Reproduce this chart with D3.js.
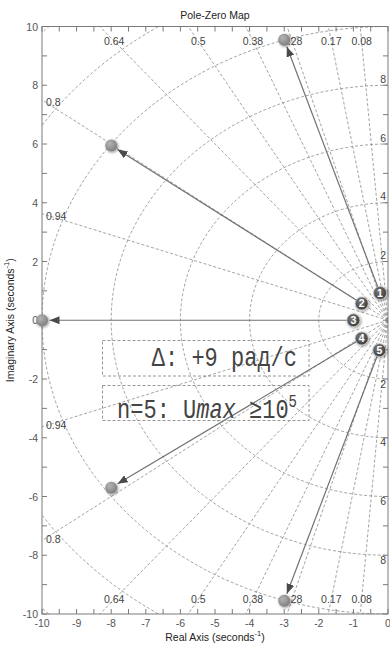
<!DOCTYPE html>
<html>
<head>
<meta charset="utf-8">
<script src="https://cdn.jsdelivr.net/npm/d3@7"></script>
<style>
  html, body { margin: 0; padding: 0; background: #fff; }
  svg { display: block; }
</style>
</head>
<body>
<svg id="chart" width="390" height="646"></svg>
<script>
// ---------- data ----------
const xTickValues = [-10, -9, -8, -7, -6, -5, -4, -3, -2, -1, 0];
const yTickValues = [-10, -8, -6, -4, -2, 0, 2, 4, 6, 8, 10];
const zetaValues = [0.08, 0.17, 0.28, 0.38, 0.5, 0.64, 0.8, 0.94];
const zetaLabels = ["0.08", "0.17", "0.28", "0.38", "0.5", "0.64", "0.8", "0.94"];
const wnValues = [2, 4, 6, 8, 10, 12, 14];
const wnLabelValues = [2, 4, 6, 8];
const poleIds = [1, 2, 3, 4, 5];
const startRe = [-0.23, -0.76, -1.0, -0.76, -0.25];
const startIm = [0.93, 0.57, 0.0, -0.62, -1.02];
const endRe = [-3, -8, -10, -8, -3];
const endIm = [9.55, 5.95, 0.0, -5.7, -9.55];
const titleText = "Pole-Zero Map";
const xLabelText = "Real Axis (seconds";
const yLabelText = "Imaginary Axis (seconds";
const note1 = "\u0394: +9 \u0440\u0430\u0434/\u0441";

// ---------- layout ----------
const svg = d3.select("#chart");
const L = 42, R = 388, T = 26.5, B = 614;
const x = d3.scaleLinear().domain([-10, 0]).range([L, R]);
const y = d3.scaleLinear().domain([-10, 10]).range([B, T]);
const sans = "'Liberation Sans', Arial, sans-serif";

const defs = svg.append("defs");
defs.append("clipPath").attr("id", "plotclip")
  .append("rect").attr("x", L).attr("y", T).attr("width", R - L).attr("height", B - T);

const bg = defs.append("radialGradient").attr("id", "ballGrad")
  .attr("cx", "38%").attr("cy", "35%").attr("r", "65%");
bg.append("stop").attr("offset", "0%").attr("stop-color", "#b4b4b4");
bg.append("stop").attr("offset", "100%").attr("stop-color", "#808080");

const mg = defs.append("radialGradient").attr("id", "markGrad")
  .attr("cx", "38%").attr("cy", "35%").attr("r", "65%");
mg.append("stop").attr("offset", "0%").attr("stop-color", "#7a7a7a");
mg.append("stop").attr("offset", "100%").attr("stop-color", "#3e3e3e");

const soft = defs.append("filter").attr("id", "soft")
  .attr("x", "-50%").attr("y", "-50%").attr("width", "200%").attr("height", "200%");
soft.append("feGaussianBlur").attr("in", "SourceAlpha").attr("stdDeviation", 1.4).attr("result", "b");
soft.append("feOffset").attr("in", "b").attr("dx", 0.5).attr("dy", 1).attr("result", "o");
soft.append("feComponentTransfer").attr("in", "o").attr("result", "s")
  .append("feFuncA").attr("type", "linear").attr("slope", 0.45);
const fm = soft.append("feMerge");
fm.append("feMergeNode").attr("in", "s");
fm.append("feMergeNode").attr("in", "SourceGraphic");

defs.append("marker").attr("id", "arrow")
  .attr("markerUnits", "userSpaceOnUse")
  .attr("markerWidth", 11).attr("markerHeight", 8)
  .attr("refX", 10).attr("refY", 4).attr("orient", "auto")
  .append("path").attr("d", "M0,0 L10,4 L0,8 Z").attr("fill", "#4a4a4a");

// ---------- grid ----------
const grid = svg.append("g").attr("clip-path", "url(#plotclip)")
  .attr("fill", "none").attr("stroke", "#8c8c8c")
  .attr("stroke-width", 0.8).attr("stroke-dasharray", "3,2");

const arc = d3.line().x(d => x(d[0])).y(d => y(d[1]));
wnValues.forEach(wn => {
  const pts = d3.range(90, 270.01, 1).map(a => [wn * Math.cos(a * Math.PI / 180), wn * Math.sin(a * Math.PI / 180)]);
  grid.append("path").attr("d", arc(pts));
});
zetaValues.forEach(z => {
  const th = Math.acos(z);
  const far = 30;
  [1, -1].forEach(s => {
    grid.append("line")
      .attr("x1", x(0)).attr("y1", y(0))
      .attr("x2", x(-far * Math.cos(th))).attr("y2", y(s * far * Math.sin(th)));
  });
});

// ---------- frame & ticks ----------
const frame = svg.append("g").attr("stroke", "#7a7a7a").attr("stroke-width", 1);
frame.append("rect").attr("x", L).attr("y", T).attr("width", R - L).attr("height", B - T).attr("fill", "none");
const xMinor = d3.range(-10, 0.01, 0.5);
const yMinor = d3.range(-10, 10.01, 1);
xMinor.forEach(v => {
  frame.append("line").attr("x1", x(v)).attr("x2", x(v)).attr("y1", B).attr("y2", B - 5);
  frame.append("line").attr("x1", x(v)).attr("x2", x(v)).attr("y1", T).attr("y2", T + 5);
});
yMinor.forEach(v => {
  frame.append("line").attr("x1", L).attr("x2", L + 5).attr("y1", y(v)).attr("y2", y(v));
  frame.append("line").attr("x1", R).attr("x2", R - 5).attr("y1", y(v)).attr("y2", y(v));
});

const tickText = svg.append("g").attr("font-family", sans).attr("font-size", 10.5).attr("fill", "#555");
xTickValues.forEach(v => {
  tickText.append("text").attr("x", x(v)).attr("y", B + 13).attr("text-anchor", "middle").text(v);
});
yTickValues.forEach(v => {
  tickText.append("text").attr("x", L - 4).attr("y", y(v) + 4).attr("text-anchor", "end").text(v);
});

// ---------- grid labels ----------
const gl = svg.append("g").attr("font-family", sans).attr("font-size", 10.5).attr("fill", "#444");
zetaValues.forEach((z, i) => {
  const th = Math.acos(z);
  const tn = Math.tan(th);
  if (tn > 1) {
    const xa = -9.5 / tn;
    gl.append("text").attr("x", x(xa)).attr("y", y(9.5) + 4).attr("text-anchor", "middle").text(zetaLabels[i]);
    gl.append("text").attr("x", x(xa)).attr("y", y(-9.5) + 4).attr("text-anchor", "middle").text(zetaLabels[i]);
  } else {
    const ya = 10 * tn;
    gl.append("text").attr("x", L + 4).attr("y", y(ya) + 6).text(zetaLabels[i]);
    gl.append("text").attr("x", L + 4).attr("y", y(-ya) + 2).text(zetaLabels[i]);
  }
});
wnLabelValues.forEach(w => {
  gl.append("text").attr("x", R - 2).attr("y", y(w) - 2.5).attr("text-anchor", "end").text(w);
  gl.append("text").attr("x", R - 2).attr("y", y(-w) + 8.5).attr("text-anchor", "end").text(w);
});

// ---------- arrows ----------
const ballR = 6;
const arrows = svg.append("g");
poleIds.forEach((id, i) => {
  const x1 = x(startRe[i]), y1 = y(startIm[i]);
  const x2 = x(endRe[i]), y2 = y(endIm[i]);
  const dx = x2 - x1, dy = y2 - y1, len = Math.hypot(dx, dy);
  const k = (len - ballR - 1.5) / len;
  arrows.append("line")
    .attr("x1", x1).attr("y1", y1)
    .attr("x2", x1 + dx * k).attr("y2", y1 + dy * k)
    .attr("stroke", "#727272").attr("stroke-width", 1.2)
    .attr("marker-end", "url(#arrow)");
});

// ---------- end poles (balls) ----------
svg.append("g").selectAll("circle").data(poleIds).join("circle")
  .attr("cx", (d, i) => x(endRe[i])).attr("cy", (d, i) => y(endIm[i]))
  .attr("r", ballR).attr("fill", "url(#ballGrad)").attr("filter", "url(#soft)");

// ---------- start markers ----------
const mk = svg.append("g");
poleIds.forEach((id, i) => {
  mk.append("circle").attr("cx", x(startRe[i])).attr("cy", y(startIm[i])).attr("r", 6.5)
    .attr("fill", "url(#markGrad)").attr("stroke", "#c8c8c8").attr("stroke-width", 0.8)
    .attr("filter", "url(#soft)");
  mk.append("text").attr("x", x(startRe[i])).attr("y", y(startIm[i]) + 3.8)
    .attr("text-anchor", "middle").attr("font-family", sans).attr("font-weight", "bold")
    .attr("font-size", 10.5).attr("fill", "#fff").text(id);
});

// ---------- annotation boxes ----------
const ann = svg.append("g");
ann.append("rect").attr("x", 102.5).attr("y", 340.5).attr("width", 206.5).attr("height", 35.5)
  .attr("fill", "none").attr("stroke", "#8a8a8a").attr("stroke-width", 0.9).attr("stroke-dasharray", "3,2");
ann.append("rect").attr("x", 102.5).attr("y", 385.5).attr("width", 206.5).attr("height", 35)
  .attr("fill", "none").attr("stroke", "#8a8a8a").attr("stroke-width", 0.9).attr("stroke-dasharray", "3,2");

const mono = "'Liberation Mono', 'Courier New', 'Nimbus Mono PS', monospace";
ann.append("text").attr("transform", "translate(297,366) scale(1,1.25)")
  .attr("text-anchor", "end").attr("font-family", mono).attr("font-size", 22).attr("fill", "#444")
  .text(note1);
const t2 = ann.append("text").attr("transform", "translate(297,418) scale(1,1.25)")
  .attr("text-anchor", "end").attr("font-family", mono).attr("font-size", 22).attr("fill", "#444");
t2.append("tspan").text("n=5: U");
t2.append("tspan").attr("font-style", "italic").text("max");
t2.append("tspan").text(" \u226510");
t2.append("tspan").attr("font-size", 14).attr("dy", -9).text("5");

// ---------- titles ----------
svg.append("text").attr("x", (L + R) / 2).attr("y", 19).attr("text-anchor", "middle")
  .attr("font-family", sans).attr("font-size", 10.5).attr("fill", "#222").text(titleText);
const xl = svg.append("text").attr("x", (L + R) / 2).attr("y", 641).attr("text-anchor", "middle")
  .attr("font-family", sans).attr("font-size", 10.5).attr("fill", "#222");
xl.append("tspan").text(xLabelText);
xl.append("tspan").attr("font-size", 7.5).attr("dy", -5).text("-1");
xl.append("tspan").attr("dy", 5).text(")");
const yl = svg.append("text").attr("transform", `translate(14,${(T + B) / 2}) rotate(-90)`)
  .attr("text-anchor", "middle").attr("font-family", sans).attr("font-size", 10.5).attr("fill", "#222");
yl.append("tspan").text(yLabelText);
yl.append("tspan").attr("font-size", 7.5).attr("dy", -5).text("-1");
yl.append("tspan").attr("dy", 5).text(")");
</script>
</body>
</html>
